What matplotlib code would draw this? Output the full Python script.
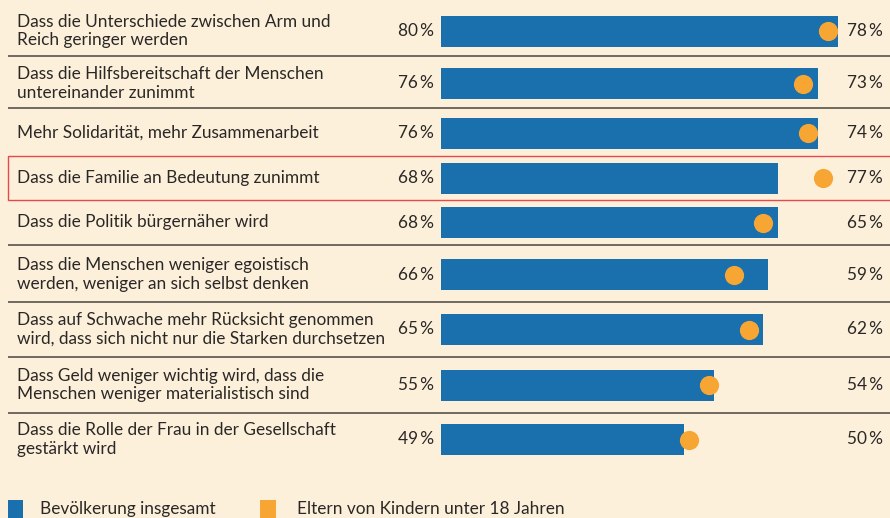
import matplotlib
matplotlib.use("Agg")
import matplotlib.pyplot as plt
from matplotlib.patches import Rectangle

plt.rcParams['font.family'] = ['Lato', 'DejaVu Sans']

categories = [
    "Dass die Unterschiede zwischen Arm und\nReich geringer werden",
    "Dass die Hilfsbereitschaft der Menschen\nuntereinander zunimmt",
    "Mehr Solidarität, mehr Zusammenarbeit",
    "Dass die Familie an Bedeutung zunimmt",
    "Dass die Politik bürgernäher wird",
    "Dass die Menschen weniger egoistisch\nwerden, weniger an sich selbst denken",
    "Dass auf Schwache mehr Rücksicht genommen\nwird, dass sich nicht nur die Starken durchsetzen",
    "Dass Geld weniger wichtig wird, dass die\nMenschen weniger materialistisch sind",
    "Dass die Rolle der Frau in der Gesellschaft\ngestärkt wird",
]
bevoelkerung = [80, 76, 76, 68, 68, 66, 65, 55, 49]
eltern = [78, 73, 74, 77, 65, 59, 62, 54, 50]
legend_labels = ["Bevölkerung insgesamt", "Eltern von Kindern unter 18 Jahren"]
highlight_index = 3

BG = "#FDF0DB"
BLUE = "#1A6FAD"
ORANGE = "#F8A633"
TEXT = "#2A2826"
LINE = "#4A443E"
RED = "#E8484C"

W, H = 890, 518
fig = plt.figure(figsize=(W / 100, H / 100), dpi=100, facecolor=BG)

# layout axes in pixel coordinates
lay = fig.add_axes([0, 0, 1, 1])
lay.set_xlim(0, W)
lay.set_ylim(H, 0)
lay.axis('off')
lay.set_facecolor(BG)

# row boundaries (layout, pixels)
bounds = [6, 56, 108, 156, 200, 245, 302, 357, 413, 466]
centers = [(bounds[i] + bounds[i + 1]) / 2 for i in range(len(categories))]
centers[1] += 1.5
centers[2] += 1
centers[5] += 1
bar_h = 31

# bar axes: value scale 4.96 px per percent starting at x=441
x0 = 441
scale = 4.96
bax = fig.add_axes([x0 / W, 0, (W - x0) / W, 1])
bax.set_xlim(0, (W - x0) / scale)
bax.set_ylim(H, 0)
bax.axis('off')
bax.patch.set_alpha(0)

bax.barh(centers, bevoelkerung, height=bar_h, color=BLUE, left=0, zorder=2)
bax.scatter(eltern, centers, s=19 ** 2 * 0.53, color=ORANGE, zorder=3, linewidths=0)

fs = 12.4
for i, (cat, b, e, c) in enumerate(zip(categories, bevoelkerung, eltern, centers)):
    lay.text(17, c, cat, fontsize=fs, color=TEXT, va='center', ha='left',
             linespacing=1.16)
    lay.text(434, c, f"{b}\u2009%", fontsize=fs, color=TEXT, va='center', ha='right')
    lay.text(883, c, f"{e}\u2009%", fontsize=fs, color=TEXT, va='center', ha='right')

# separators
for i, yb in enumerate(bounds[1:-1]):
    if i in (highlight_index - 1, highlight_index):
        continue
    lay.plot([8, W], [yb, yb], color=LINE, lw=1.1, solid_capstyle='butt')

# highlight box
hb_top = bounds[highlight_index]
hb_bot = bounds[highlight_index + 1]
lay.add_patch(Rectangle((8, hb_top), W - 8 + 2, hb_bot - hb_top, fill=False,
                        edgecolor=RED, lw=1.0))

# legend
lay.add_patch(Rectangle((8, 500), 15, 20, color=BLUE, lw=0))
lay.text(40, 509, legend_labels[0], fontsize=fs, color=TEXT, va='center', ha='left')
lay.add_patch(Rectangle((260, 500), 16, 20, color=ORANGE, lw=0))
lay.text(297, 509, legend_labels[1], fontsize=fs, color=TEXT, va='center', ha='left')

fig.savefig("out.png", dpi=100, facecolor=BG)
